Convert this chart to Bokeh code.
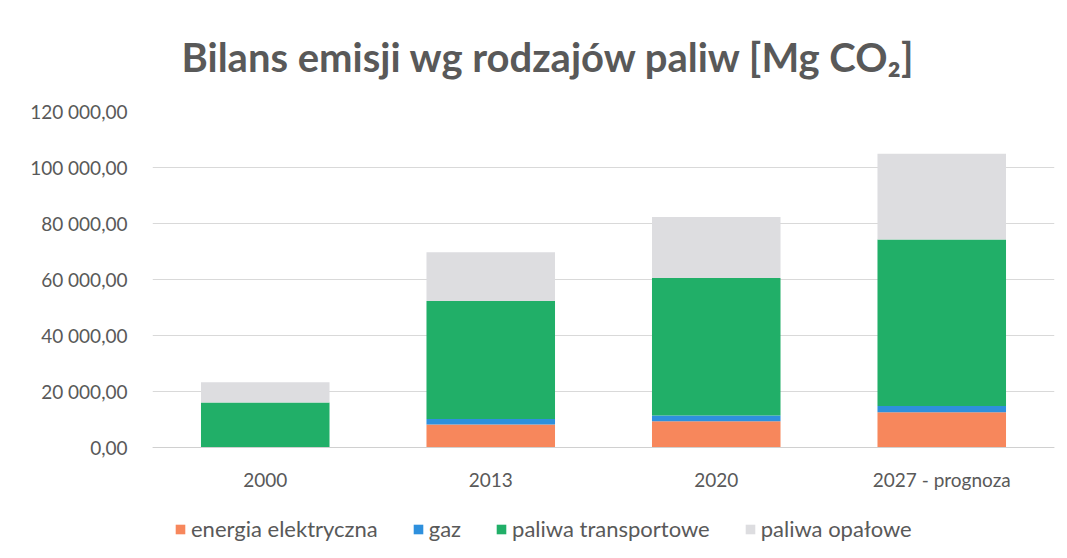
from bokeh.plotting import figure
from bokeh.models import ColumnDataSource, FixedTicker, Legend
from bokeh.embed import file_html
from bokeh.resources import INLINE

years = ["2000", "2013", "2020", "2027 - prognoza"]
series = ["energia elektryczna", "gaz", "paliwa transportowe", "paliwa opałowe"]
energia = [0, 8200, 9400, 12600]
gaz = [0, 2000, 2000, 2200]
transport = [16100, 42100, 49100, 59500]
opalowe = [7200, 17400, 21800, 30600]
colors = ["#F7875C", "#2E90DD", "#21AF68", "#DDDDE0"]
y_ticks = [0, 20000, 40000, 60000, 80000, 100000, 120000]
y_labels = ["0,00", "20 000,00", "40 000,00", "60 000,00", "80 000,00", "100 000,00", "120 000,00"]

keys = ["energia", "gaz", "transport", "opalowe"]
src = ColumnDataSource(dict(x=years, energia=energia, gaz=gaz, transport=transport, opalowe=opalowe))

FONT = "Lato"
TXT = "#595959"

# frame extends below zero to host the legend; the x axis is pinned at y = 0
p = figure(x_range=years, y_range=(-37500, 120000), frame_width=902, frame_height=441,
           output_backend="svg", toolbar_location=None,
           title="Bilans emisji wg rodzajów paliw [Mg CO₂]")
p.min_border_left = 152
p.min_border_right = 8
p.min_border_top = 111
p.min_border_bottom = 6
p.outline_line_color = None
p.background_fill_color = "white"

p.title.text_font = FONT
p.title.text_font_size = "40px"
p.title.text_font_style = "bold"
p.title.text_color = TXT
p.title.align = "left"
p.title.offset = 29
p.title.standoff = 61

r = p.vbar_stack(keys, x="x", width=0.57, source=src, color=colors,
                 line_color=None)

p.xgrid.grid_line_color = None
p.ygrid.grid_line_color = "#D9D9D9"
p.ygrid.ticker = FixedTicker(ticks=y_ticks)

p.yaxis.ticker = FixedTicker(ticks=y_ticks)
p.yaxis.major_label_overrides = {t: l for t, l in zip(y_ticks, y_labels)}
p.yaxis.axis_line_color = None
p.yaxis.major_tick_line_color = None
p.yaxis.minor_tick_line_color = None
p.yaxis.major_label_text_font = FONT
p.yaxis.major_label_text_font_size = "19px"
p.yaxis.major_label_text_color = TXT
p.yaxis.major_label_standoff = 19

p.xaxis.fixed_location = 0
p.xaxis.axis_line_color = "#D0D0D0"
p.xaxis.major_tick_line_color = None
p.xaxis.minor_tick_line_color = None
p.xaxis.major_label_text_font = FONT
p.xaxis.major_label_text_font_size = "19px"
p.xaxis.major_label_text_color = TXT
p.xaxis.major_label_standoff = 14

leg = Legend(items=[(s, [rr]) for s, rr in zip(series, r)])
leg.orientation = "horizontal"
leg.location = (22, 10)
leg.border_line_color = None
leg.background_fill_alpha = 0
leg.label_text_font = FONT
leg.label_text_font_size = "22px"
leg.label_text_color = TXT
leg.glyph_width = 12
leg.glyph_height = 12
leg.spacing = 34
leg.label_standoff = 5
leg.padding = 0
leg.margin = 0
p.add_layout(leg)

open("out.html", "w").write(file_html(p, INLINE))
